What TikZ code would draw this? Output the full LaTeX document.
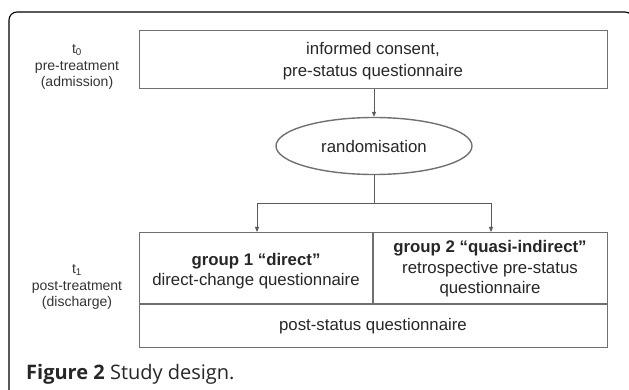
\documentclass[tikz,border=0pt]{standalone}
\usepackage{fontspec}
\setmainfont{Liberation Sans}
\newfontfamily\capfont{Open Sans}
\usetikzlibrary{shapes.geometric,arrows.meta}
\definecolor{boxgray}{HTML}{707070}
\tikzset{
  box/.style={draw=boxgray, line width=1.4pt},
  conn/.style={draw=boxgray!80!black, line width=0.9pt},
  arr/.style={conn, -{Triangle[length=5pt,width=4pt]}},
  txt/.style={font=\fontsize{16.8}{20.5}\selectfont, align=center, text=black!85, inner sep=0pt},
  lbl/.style={font=\fontsize{14}{16.5}\selectfont, align=center, text=black!80, inner sep=0pt},
}
\begin{document}
\begin{tikzpicture}[x=1pt,y=-1pt]
\useasboundingbox (0,0) rectangle (629,390);
% outer frame
\draw[line width=1.1pt, rounded corners=8pt] (9,400) -- (9,12) -- (633,12) -- (633,400);
% top box
\node[box, minimum width=468pt, minimum height=58pt, anchor=north west, inner sep=0pt] (top) at (139,30) {};
\node[txt, font=\fontsize{16.8}{22}\selectfont] (toptxt) at (373,61) {informed consent,\\pre-status questionnaire};
% ellipse
\node[ellipse, box, minimum width=196pt, minimum height=57pt, inner sep=0pt] (rand) at (374,146) {};
\node[txt] (randtxt) at (374,146) {randomisation};
% lower box
\node[box, minimum width=468pt, minimum height=115pt, anchor=north west, inner sep=0pt] (low) at (139,232) {};
\coordinate (g1top) at (257,232);
\coordinate (g2top) at (491,232);
\coordinate (split) at (374,203);
\coordinate (midtop) at (373,232);
\coordinate (midbot) at (373,304);
\coordinate (hl) at (139,304);
\coordinate (hr) at (607,304);
\draw[box] (hl) -- (hr);
\draw[box] (midtop) -- (midbot);
\node[txt] (g1) at (256,271) {\textbf{group 1 “direct”}\\direct-change questionnaire};
\node[txt] (g2) at (490,269) {\textbf{group 2 “quasi-indirect”}\\retrospective pre-status\\questionnaire};
\node[txt] (post) at (373,326) {post-status questionnaire};
% connectors
\draw[arr] (top.south -| rand.north) -- (rand.north);
\draw[conn] (rand.south) -- (split);
\draw[arr] (split) -| (g1top);
\draw[arr] (split) -| (g2top);
% left labels
\node[lbl] (t0) at (77,67) {t\textsubscript{0}\\pre-treatment\\(admission)};
\node[lbl] (t1) at (77,287) {t\textsubscript{1}\\post-treatment\\(discharge)};
% caption
\node[anchor=base west, inner sep=0pt, font=\capfont\fontsize{20}{24}\selectfont, text=black!85] (cap) at (26,379) {\textbf{Figure 2} Study design.};
\end{tikzpicture}
\end{document}
